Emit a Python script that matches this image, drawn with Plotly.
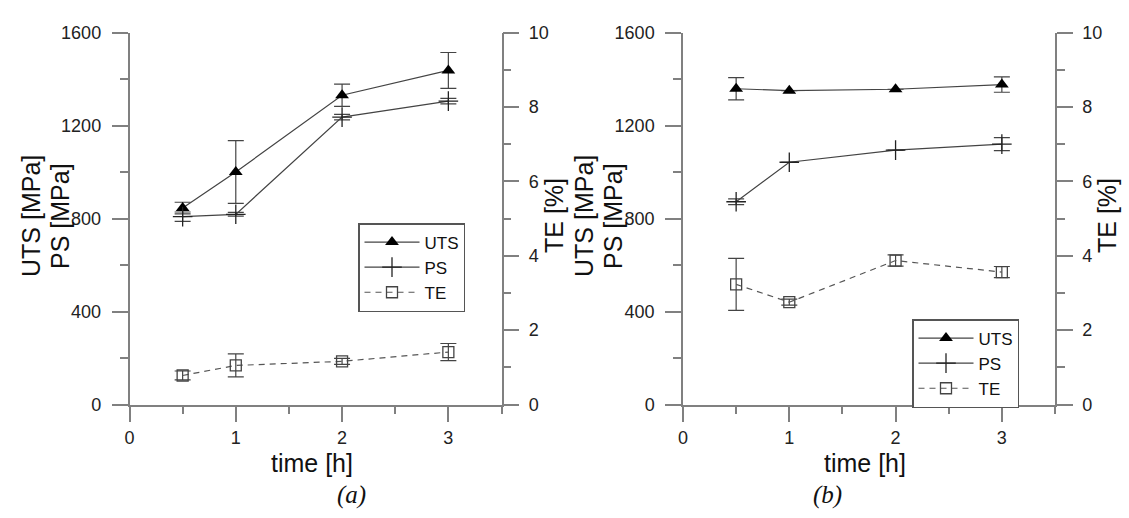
import plotly.graph_objects as go

W, H = 1129, 518

# ---- data ----
time_h = [0.5, 1, 2, 3]

# panel (a)
uts_a = [845, 1000, 1330, 1437]
uts_a_err = [25, 135, 48, 77]
ps_a = [808, 818, 1236, 1305]
ps_a_err = [20, 8, 12, 12]
te_a = [0.78, 1.05, 1.16, 1.41]
te_a_err = [0.12, 0.31, 0.08, 0.23]

# panel (b)
uts_b = [1358, 1350, 1356, 1376]
uts_b_err = [48, 0, 0, 33]
ps_b = [872, 1042, 1094, 1120]
ps_b_err = [12, 0, 0, 28]
te_b = [3.23, 2.75, 3.87, 3.56]
te_b_err = [0.70, 0.08, 0.15, 0.15]

x_ticks = [0, 1, 2, 3]
left_ticks = [0, 400, 800, 1200, 1600]
right_ticks = [0, 2, 4, 6, 8, 10]

FONT = "Liberation Sans"
AXC = "#808080"
TXC = "#222222"


def px(x):
    return x / W


def py(y):
    return 1 - y / H


fig = go.Figure()

ERR = dict(type="data", symmetric=True, color="#444444", thickness=1.2, width=8)


def add_panel(xa, ya, ya2, leg, uts, uts_e, ps, ps_e, te, te_e):
    fig.add_trace(go.Scatter(
        x=time_h, y=uts, name="UTS", xaxis=xa, yaxis=ya, legend=leg,
        mode="lines+markers",
        line=dict(color="#444444", width=1.2),
        marker=dict(symbol="triangle-up", size=12, color="black"),
        error_y=dict(array=uts_e, **ERR)))
    fig.add_trace(go.Scatter(
        x=time_h, y=ps, name="PS", xaxis=xa, yaxis=ya, legend=leg,
        mode="lines+markers",
        line=dict(color="#444444", width=1.2),
        marker=dict(symbol="cross-thin", size=14, color="#222222",
                    line=dict(color="#222222", width=1.3)),
        error_y=dict(array=ps_e, **ERR)))
    fig.add_trace(go.Scatter(
        x=time_h, y=te, name="TE", xaxis=xa, yaxis=ya2, legend=leg,
        mode="lines+markers",
        line=dict(color="#555555", width=1.2, dash="6px,5px"),
        marker=dict(symbol="square-open", size=11, color="#444444",
                    line=dict(color="#444444", width=1.3)),
        error_y=dict(array=te_e, **ERR)))


add_panel("x", "y", "y2", "legend", uts_a, uts_a_err, ps_a, ps_a_err, te_a, te_a_err)
add_panel("x2", "y3", "y4", "legend2", uts_b, uts_b_err, ps_b, ps_b_err, te_b, te_b_err)

tickfont = dict(family=FONT, size=18, color=TXC)
common = dict(showline=True, linecolor=AXC, linewidth=1.5, showgrid=False,
              zeroline=False, ticks="outside", ticklen=16, tickwidth=1.5,
              tickcolor=AXC, tickfont=tickfont, automargin=False)


def minor(d):
    return dict(dtick=d, tick0=0, ticks="outside", ticklen=8,
                tickwidth=1.5, tickcolor=AXC)


ydom = [py(404.5), py(32.5)]

LEG = dict(xanchor="left", yanchor="top", bgcolor="white",
           bordercolor="#555555", borderwidth=1.5,
           font=dict(family=FONT, size=17, color="#111111"),
           itemwidth=55, traceorder="normal")

fig.update_layout(
    width=W, height=H,
    margin=dict(l=0, r=0, t=0, b=0),
    paper_bgcolor="white", plot_bgcolor="white",
    showlegend=True,
    xaxis=dict(domain=[px(129.5), px(501.5)], range=[0, 3.5], anchor="y",
               tickvals=x_ticks, minor=minor(0.5), **common),
    yaxis=dict(domain=ydom, range=[0, 1600], anchor="x", tickvals=left_ticks,
               minor=minor(200), ticklabelstandoff=7, **common),
    yaxis2=dict(range=[0, 10], overlaying="y", side="right", anchor="x",
                tickvals=right_ticks, minor=minor(1), ticklabelstandoff=6,
                **common),
    xaxis2=dict(domain=[px(683), px(1055)], range=[0, 3.5], anchor="y3",
                tickvals=x_ticks, minor=minor(0.5), **common),
    yaxis3=dict(domain=ydom, range=[0, 1600], anchor="x2", tickvals=left_ticks,
                minor=minor(200), ticklabelstandoff=7, **common),
    yaxis4=dict(range=[0, 10], overlaying="y3", side="right", anchor="x2",
                tickvals=right_ticks, minor=minor(1), ticklabelstandoff=6,
                **common),
    legend=dict(x=px(358), y=py(223), **LEG),
    legend2=dict(x=px(912), y=py(319), **LEG),
)

TITLE = dict(family=FONT, size=25, color="#111111")
ann = []
for cx, lab_x, rx in [(0, 312, 554), (1, 865, 1107)]:
    base = 0 if cx == 0 else 553
    ann += [
        dict(text="UTS [MPa]", x=px(31 + base), y=py(216), textangle=-90),
        dict(text="PS [MPa]", x=px(60 + base), y=py(216), textangle=-90),
        dict(text="TE [%]", x=px(rx), y=py(216), textangle=-90),
        dict(text="time [h]", x=px(lab_x), y=py(463), textangle=0),
    ]
for a in ann:
    a.update(xref="paper", yref="paper", showarrow=False, xanchor="center",
             yanchor="middle", font=TITLE)
ital = dict(family="Liberation Serif", size=25, color="#111111")
ann.append(dict(text="<i>(a)</i>", x=px(351), y=py(495), xref="paper", yref="paper",
                showarrow=False, xanchor="center", yanchor="middle", font=ital))
ann.append(dict(text="<i>(b)</i>", x=px(827), y=py(495), xref="paper", yref="paper",
                showarrow=False, xanchor="center", yanchor="middle", font=ital))
fig.update_layout(annotations=ann)

fig.write_html("out.html", config={"displayModeBar": False},
               post_script="document.body.style.margin='0px';document.body.style.padding='0px';")
